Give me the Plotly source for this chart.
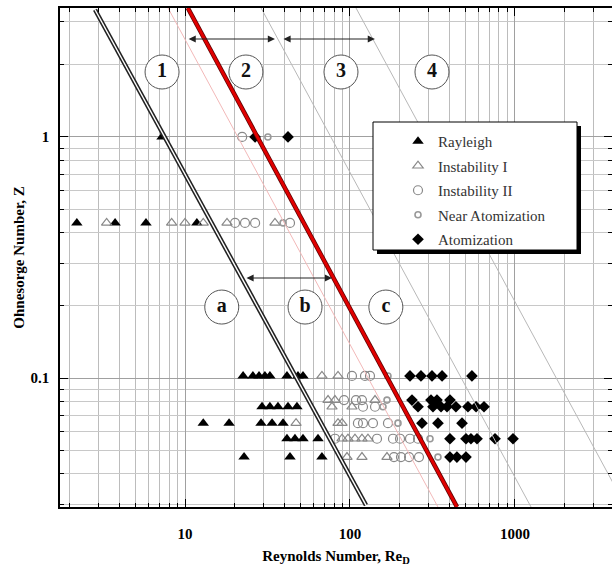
import numpy as np
import plotly.graph_objects as go

# ---------------- data ----------------
rayleigh_re = [7.26, 2.21, 3.77, 5.80, 11.8,
               22.5, 25.8, 28.1, 30.5, 32.7, 41.5, 48.4, 51.9,
               29.3, 32.7, 36.6, 42.1, 47.7,
               12.9, 18.5, 28.9, 33.7, 39.3,
               41.5, 46.4, 51.9, 64.0,
               22.8, 43.3, 67.6]
rayleigh_z = [1.0, 0.44, 0.44, 0.44, 0.44,
              0.102, 0.102, 0.102, 0.102, 0.102, 0.102, 0.102, 0.102,
              0.076, 0.076, 0.076, 0.076, 0.076,
              0.065, 0.065, 0.065, 0.065, 0.065,
              0.056, 0.056, 0.056, 0.056,
              0.047, 0.047, 0.047]

inst1_re = [3.35, 8.30, 10.0, 12.9, 17.97, 35.1,
            67.6, 84.6,
            73.6, 81.1, 141.8,
            77.8, 102.8,
            47.1, 84.6, 89.5,
            89.5, 97.2, 107.2, 118.2, 128.5,
            95.9, 118.2, 167.6]
inst1_z = [0.44, 0.44, 0.44, 0.44, 0.44, 0.44,
           0.102, 0.102,
           0.081, 0.081, 0.081,
           0.076, 0.076,
           0.065, 0.065, 0.065,
           0.056, 0.056, 0.056, 0.056, 0.056,
           0.047, 0.047, 0.047]

inst2_re = [22.2,
            20.1, 23.1, 26.6, 43.3,
            102.8, 123.3, 132.2,
            92.0, 108.7, 118.2,
            119.9, 141.8,
            111.7, 119.9, 137.8, 169.9,
            81.1, 145.8, 182.2, 201.0, 231.0, 258.4,
            184.7, 203.7, 228.0, 261.9]
inst2_z = [1.0,
           0.44, 0.44, 0.44, 0.44,
           0.102, 0.102, 0.102,
           0.081, 0.081, 0.081,
           0.076, 0.076,
           0.065, 0.065, 0.065, 0.065,
           0.056, 0.056, 0.056, 0.056, 0.056, 0.056,
           0.047, 0.047, 0.047, 0.047]

near_re = [31.8, 39.3, 169.9, 167.6, 158.5, 195.4, 305.5, 341.3]
near_z = [1.0, 0.44, 0.102, 0.081, 0.076, 0.065, 0.056, 0.047]

atom_re = [26.6, 42.1,
           231.0, 269.2, 314.0, 361.4, 548.3,
           237.6, 309.7, 336.6, 403.6,
           258.4, 318.4, 356.3, 387.3, 438.5, 518.8, 580.8, 649.0,
           273.0, 341.3, 477.5,
           403.6, 504.7, 540.8, 588.8, 756.8, 972.8,
           403.6, 444.6, 504.7]
atom_z = [1.0, 1.0,
          0.102, 0.102, 0.102, 0.102, 0.102,
          0.081, 0.081, 0.081, 0.081,
          0.076, 0.076, 0.076, 0.076, 0.076, 0.076, 0.076, 0.076,
          0.065, 0.065, 0.065,
          0.056, 0.056, 0.056, 0.056, 0.056, 0.056,
          0.047, 0.047, 0.047]

# regime boundary lines (end points)
black_re = [2.85, 125.0]
black_z = [3.37, 0.0297]
red_re = [10.4, 445.0]
red_z = [3.43, 0.0292]
pink_re = [7.89, 341.0]
gray23_re = [28.9, 1250.0]
gray34_re = [108.7, 4710.0]
thin_z = [3.43, 0.0292]

# region labels
num_labels = ["1", "2", "3", "4"]
num_re = [7.26, 23.4, 88.2, 314.0]
num_z = [1.86, 1.86, 1.86, 1.86]
let_labels = ["a", "b", "c"]
let_re = [16.7, 53.4, 165.0]
let_z = [0.197, 0.197, 0.197]

# double arrows: (Re start, Re end, Z)
arrow_re0 = [10.3, 38.7, 23.1]
arrow_re1 = [35.1, 141.6, 77.8]
arrow_z = [2.55, 2.55, 0.26]

x_ticks = [10, 100, 1000]
x_ticktext = ["10", "100", "1000"]
y_ticks = [0.1, 1]
y_ticktext = ["0.1", "1"]

SERIF = "Liberation Serif, Times New Roman, serif"

ML, MR, MT, MB = 60, 0, 8, 76
W, H = 612, 583
PW = W - ML - MR
PH = H - MT - MB

# ---------------- figure ----------------
fig = go.Figure()

fig.add_trace(go.Scatter(x=rayleigh_re, y=rayleigh_z, mode="markers", name="Rayleigh",
                         legendgroup="g1",
                         marker=dict(symbol="triangle-up", size=10, color="black")))
fig.add_trace(go.Scatter(x=inst1_re, y=inst1_z, mode="markers", name="Instability I",
                         legendgroup="g2",
                         marker=dict(symbol="triangle-up-open", size=9, color="#888",
                                     line=dict(width=1.2))))
fig.add_trace(go.Scatter(x=inst2_re, y=inst2_z, mode="markers", name="Instability II",
                         legendgroup="g3",
                         marker=dict(symbol="circle-open", size=9, color="#888",
                                     line=dict(width=1.2))))
fig.add_trace(go.Scatter(x=near_re, y=near_z, mode="markers", name="Near Atomization",
                         legendgroup="g4",
                         marker=dict(symbol="circle-open", size=6, color="#999",
                                     line=dict(width=1.6))))
fig.add_trace(go.Scatter(x=atom_re, y=atom_z, mode="markers", name="Atomization",
                         legendgroup="g5",
                         marker=dict(symbol="diamond", size=9, color="black")))

# thin boundary lines
fig.add_trace(go.Scatter(x=pink_re, y=thin_z, mode="lines", showlegend=False,
                         line=dict(color="#f2b8b8", width=1), hoverinfo="skip"))
fig.add_trace(go.Scatter(x=gray23_re, y=thin_z, mode="lines", showlegend=False,
                         line=dict(color="#b8b8b8", width=1), hoverinfo="skip"))
fig.add_trace(go.Scatter(x=gray34_re, y=thin_z, mode="lines", showlegend=False,
                         line=dict(color="#b8b8b8", width=1), hoverinfo="skip"))
# black double line
fig.add_trace(go.Scatter(x=black_re, y=black_z, mode="lines", showlegend=False,
                         line=dict(color="#222", width=4.5), hoverinfo="skip"))
fig.add_trace(go.Scatter(x=black_re, y=black_z, mode="lines", showlegend=False,
                         line=dict(color="white", width=1.4), hoverinfo="skip"))
# red line
fig.add_trace(go.Scatter(x=red_re, y=red_z, mode="lines", showlegend=False,
                         line=dict(color="#5a0000", width=4.5), hoverinfo="skip"))
fig.add_trace(go.Scatter(x=red_re, y=red_z, mode="lines", showlegend=False,
                         line=dict(color="#e00000", width=3), hoverinfo="skip"))

# circled labels
for labs, xs, ys in [(num_labels, num_re, num_z), (let_labels, let_re, let_z)]:
    fig.add_trace(go.Scatter(x=xs, y=ys, mode="markers+text", text=labs,
                             textposition="middle center", showlegend=False,
                             hoverinfo="skip",
                             textfont=dict(family=SERIF, size=20, color="#111", weight="bold"),
                             marker=dict(symbol="circle", size=34, color="white",
                                         line=dict(color="#555", width=1))))

# arrows
for r0, r1, z in zip(arrow_re0, arrow_re1, arrow_z):
    fig.add_annotation(x=np.log10(r1), y=np.log10(z), ax=np.log10(r0), ay=np.log10(z),
                       xref="x", yref="y", axref="x", ayref="y", text="",
                       showarrow=True, arrowhead=2, arrowside="end+start",
                       arrowsize=1.3, arrowwidth=1.1, arrowcolor="#222")


# legend box (shadow + frame), positions given in window pixels
def px_x(p):
    return (p - ML) / PW


def px_y(p):
    return (MT + PH - p) / PH


fig.add_shape(type="rect", xref="paper", yref="paper", layer="above",
              x0=px_x(377), x1=px_x(581), y0=px_y(254), y1=px_y(126),
              fillcolor="black", line=dict(width=0))
fig.add_shape(type="rect", xref="paper", yref="paper", layer="above",
              x0=px_x(373), x1=px_x(577), y0=px_y(250), y1=px_y(122),
              fillcolor="white", line=dict(color="black", width=1))

minor_x = [2, 3, 4, 5, 6, 7, 8, 9, 20, 30, 40, 50, 60, 70, 80, 90,
           200, 300, 400, 500, 600, 700, 800, 900, 2000, 3000]
minor_y = [0.03, 0.04, 0.05, 0.06, 0.07, 0.08, 0.09,
           0.2, 0.3, 0.4, 0.5, 0.6, 0.7, 0.8, 0.9, 2, 3]

axis_common = dict(showline=True, linecolor="black", linewidth=1.5, mirror="allticks",
                   ticks="inside", ticklen=8, tickcolor="black", showgrid=True,
                   gridcolor="#a0a0a0", gridwidth=1, zeroline=False, automargin=False,
                   tickfont=dict(family=SERIF, size=15, color="black", weight="bold"))

fig.update_xaxes(type="log", range=[0.2424, 3.588], tickmode="array",
                 tickvals=x_ticks, ticktext=x_ticktext, ticklabelstandoff=12,
                 title=dict(text="Reynolds Number, Re<sub>D</sub>", standoff=10,
                            font=dict(family=SERIF, size=15, color="black", weight="bold")),
                 minor=dict(tickmode="array", tickvals=minor_x, ticks="inside", ticklen=4,
                            tickcolor="black", showgrid=True, gridcolor="#bcbcbc", gridwidth=1),
                 **axis_common)
fig.update_yaxes(type="log", range=[-1.535, 0.535], tickmode="array",
                 tickvals=y_ticks, ticktext=y_ticktext, ticklabelstandoff=6,
                 title=dict(text="Ohnesorge Number, Z", standoff=2,
                            font=dict(family=SERIF, size=15, color="black", weight="bold")),
                 minor=dict(tickmode="array", tickvals=minor_y, ticks="inside", ticklen=4,
                            tickcolor="black", showgrid=True, gridcolor="#c8c8c8", gridwidth=1),
                 **axis_common)

fig.update_layout(width=W, height=H, margin=dict(l=ML, r=MR, t=MT, b=MB),
                  paper_bgcolor="white", plot_bgcolor="white",
                  legend=dict(x=px_x(398), y=px_y(125), xanchor="left", yanchor="top",
                              bgcolor="rgba(0,0,0,0)", borderwidth=0, tracegroupgap=2,
                              font=dict(family=SERIF, size=15, color="#333")),
                  showlegend=True)

fig.write_html("out.html", config={"displayModeBar": False},
               post_script="document.body.style.margin='0';"
                           "document.body.style.overflow='hidden';")
